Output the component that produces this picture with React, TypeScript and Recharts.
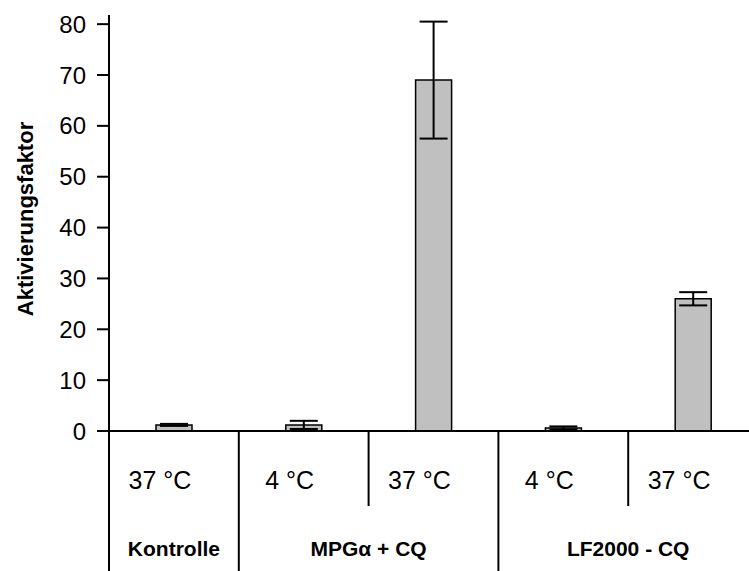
import { BarChart, Bar, XAxis, YAxis, ErrorBar, Label } from "recharts";

// Conditions along the x axis, grouped by treatment
const groups = ["Kontrolle", "MPGα + CQ", "MPGα + CQ", "LF2000 - CQ", "LF2000 - CQ"];
const temperatures = ["37 °C", "4 °C", "37 °C", "4 °C", "37 °C"];
const activation = [1.2, 1.2, 69, 0.6, 26];
const activationSd = [0.2, 0.8, 11.5, 0.3, 1.3];
const yTicks = [0, 10, 20, 30, 40, 50, 60, 70, 80];

const data = temperatures.map((temp, i) => ({
  key: `c${i}`,
  temp,
  group: groups[i],
  value: activation[i],
  sd: activationSd[i],
}));

const FONT = '"Liberation Sans", Arial, Helvetica, sans-serif';
const WIDTH = 760;
const HEIGHT = 571;
const Y_AXIS_W = 109;
const X_AXIS_H = 140;
const MARGIN = { top: 15, right: 2, bottom: 0, left: 0 };
const AXIS_Y = HEIGHT - MARGIN.bottom - X_AXIS_H;
const BAND = (WIDTH - Y_AXIS_W - MARGIN.left - MARGIN.right) / data.length;

function CategoryTick(props: any) {
  const { x, payload } = props;
  const i: number = props.index ?? payload.index;
  const d = data[i];
  const left = x - BAND / 2;
  const groupStart = i === 0 || data[i - 1].group !== d.group;
  let span = 0;
  if (groupStart) {
    while (i + span < data.length && data[i + span].group === d.group) span++;
  }
  return (
    <g>
      <line
        x1={left}
        x2={left}
        y1={AXIS_Y}
        y2={groupStart ? HEIGHT : AXIS_Y + 75}
        stroke="#000"
        strokeWidth={2}
      />
      <text x={x - 14} y={AXIS_Y + 58} textAnchor="middle" fontSize={25} fontFamily={FONT} fill="#000">
        {d.temp}
      </text>
      {groupStart && (
        <text
          x={left + (span * BAND) / 2}
          y={AXIS_Y + 125}
          textAnchor="middle"
          fontSize={21}
          fontWeight="bold"
          fontFamily={FONT}
          fill="#000"
        >
          {d.group}
        </text>
      )}
    </g>
  );
}

function YTitle(props: any) {
  const vb = props.viewBox;
  const cy = vb.y + vb.height / 2 - 4;
  return (
    <text
      x={33}
      y={cy}
      transform={`rotate(-90 33 ${cy})`}
      textAnchor="middle"
      fontSize={22}
      fontWeight="bold"
      fontFamily={FONT}
      fill="#000"
    >
      Aktivierungsfaktor
    </text>
  );
}

export default function App() {
  return (
    <div
      style={{
        position: "absolute",
        left: 0,
        top: 0,
        width: 749,
        height: 571,
        overflow: "hidden",
        background: "#fff",
      }}
    >
      <BarChart width={WIDTH} height={HEIGHT} data={data} margin={MARGIN}>
        <XAxis
          dataKey="key"
          height={X_AXIS_H}
          interval={0}
          tickLine={false}
          axisLine={{ stroke: "#000", strokeWidth: 2 }}
          tick={<CategoryTick />}
        />
        <YAxis
          width={Y_AXIS_W}
          domain={[0, 81.8]}
          ticks={yTicks}
          allowDataOverflow
          tickSize={12}
          tickMargin={11}
          axisLine={{ stroke: "#000", strokeWidth: 2 }}
          tickLine={{ stroke: "#000", strokeWidth: 2 }}
          tick={{ fontSize: 24, fontFamily: FONT, fill: "#000" }}
        >
          <Label content={<YTitle />} />
        </YAxis>
        <Bar dataKey="value" barSize={36} fill="#c0c0c0" stroke="#000" strokeWidth={1.5} isAnimationActive={false}>
          <ErrorBar dataKey="sd" width={14} stroke="#000" strokeWidth={2} direction="y" />
        </Bar>
      </BarChart>
    </div>
  );
}
